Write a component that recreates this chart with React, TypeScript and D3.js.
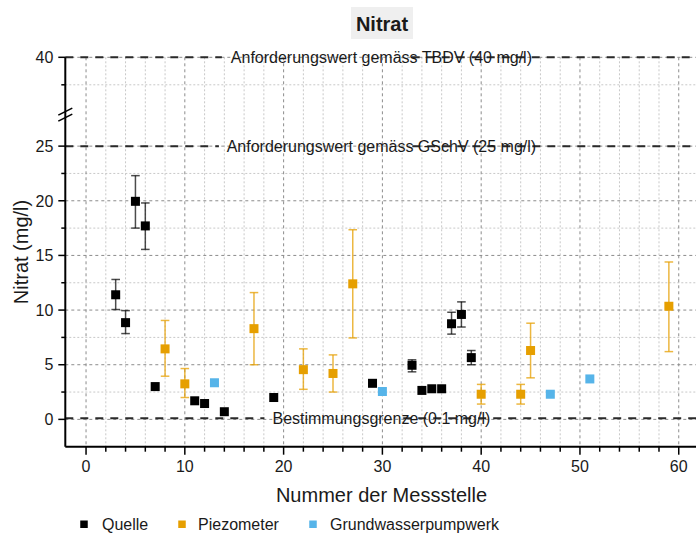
import React from "react";
import * as d3 from "d3";

// ---------- data ----------
const quelleX = [3, 4, 5, 6, 7, 11, 12, 14, 19, 29, 33, 34, 35, 36, 37, 38, 39];
const quelleY = [11.4, 8.85, 19.95, 17.7, 3.0, 1.7, 1.45, 0.7, 2.0, 3.3, 4.95, 2.65, 2.8, 2.8, 8.75, 9.6, 5.65];
const quelleLo = [10.05, 7.85, 17.5, 15.55, null, null, null, null, null, null, 4.35, null, null, null, 7.8, 8.45, 5.0];
const quelleHi = [12.8, 9.95, 22.3, 19.8, null, null, null, null, null, null, 5.45, null, null, null, 9.8, 10.75, 6.3];

const piezoX = [8, 10, 17, 22, 25, 27, 40, 44, 45, 59];
const piezoY = [6.45, 3.25, 8.3, 4.55, 4.2, 12.4, 2.3, 2.3, 6.3, 10.35];
const piezoLo = [3.95, 2.0, 5.0, 2.75, 2.5, 7.45, 1.4, 1.4, 3.8, 6.2];
const piezoHi = [9.05, 4.65, 11.6, 6.45, 5.9, 17.35, 3.2, 3.2, 8.8, 14.4];

const pumpX = [13, 30, 47, 51];
const pumpY = [3.35, 2.55, 2.3, 3.7];

const refValues = [40, 25, 0.1];
const refLabels = [
  "Anforderungswert gemäss TBDV (40 mg/l)",
  "Anforderungswert gemäss GSchV (25 mg/l)",
  "Bestimmungsgrenze (0.1 mg/l)",
];

const xTicks = [0, 10, 20, 30, 40, 50, 60];
const xMinor = [2, 4, 6, 8, 12, 14, 16, 18, 22, 24, 26, 28, 32, 34, 36, 38, 42, 44, 46, 48, 52, 54, 56, 58];
const yTicks = [0, 5, 10, 15, 20, 25, 40];
const yMinor = [2.5, 7.5, 12.5, 17.5, 22.5, 37.5];

const legendNames = ["Quelle", "Piezometer", "Grundwasserpumpwerk"];
const colors = ["#000000", "#E69F00", "#56B4E9"];

const FONT = "'Liberation Sans', Arial, Helvetica, sans-serif";

export default function App() {
  const W = 696, H = 533;
  const x = d3.scaleLinear().domain([-2.1, 62]).range([65.3, 698.5]);
  // broken y axis: lower [-2.5, 27.5], upper [35, 40]
  const y = d3.scaleLinear().domain([-2.5, 27.5, 35, 40]).range([446.7, 118.8, 112.3, 57.3]);
  const top = y(40), bottom = y(-2.5), left = x.range()[0];

  const sq = 9;
  const cap = 4.3;

  const errBars = (xs: number[], lo: (number | null)[], hi: (number | null)[], col: string, op: number) =>
    xs.map((xv, i) => {
      const l = lo[i], h = hi[i];
      if (l == null || h == null) return null;
      const cx = x(xv);
      return (
        <g key={i} stroke={col} strokeOpacity={op} strokeWidth={1.5}>
          <line x1={cx} x2={cx} y1={y(l)} y2={y(h)} />
          <line x1={cx - cap} x2={cx + cap} y1={y(l)} y2={y(l)} />
          <line x1={cx - cap} x2={cx + cap} y1={y(h)} y2={y(h)} />
        </g>
      );
    });

  const squares = (xs: number[], ys: number[], col: string) =>
    xs.map((xv, i) => (
      <rect key={i} x={x(xv) - sq / 2} y={y(ys[i]) - sq / 2} width={sq} height={sq} fill={col} />
    ));

  const labelCx = x(29.9);
  const labelW = [303, 309, 218];

  return (
    <svg width={W} height={H} style={{ position: "absolute", left: 0, top: 0, fontFamily: FONT }}>
      <rect x={0} y={0} width={W} height={H} fill="#fff" />
      {/* grid minor */}
      {xMinor.map((v) => (
        <line key={"xm" + v} x1={x(v)} x2={x(v)} y1={top} y2={bottom} stroke="#c8c8c8" strokeWidth={1} strokeDasharray="2,2" />
      ))}
      {yMinor.map((v) => (
        <line key={"ym" + v} x1={left} x2={W} y1={y(v)} y2={y(v)} stroke="#c8c8c8" strokeWidth={1} strokeDasharray="2,2" />
      ))}
      {/* grid major */}
      {xTicks.map((v) => (
        <line key={"xg" + v} x1={x(v)} x2={x(v)} y1={top} y2={bottom} stroke="#8c8c8c" strokeWidth={1} strokeDasharray="3,3" />
      ))}
      {yTicks.map((v) => (
        <line key={"yg" + v} x1={left} x2={W} y1={y(v)} y2={y(v)} stroke="#8c8c8c" strokeWidth={1} strokeDasharray="3,3" />
      ))}

      {/* reference lines */}
      {refValues.map((v, i) => {
        const ty = y(v);
        const ts = labelCx - labelW[i] / 2;
        const gapA = ts - 8;
        const gapB = ts + labelW[i] * 0.6;
        return (
          <g key={"ref" + i}>
            <line x1={left} x2={gapA} y1={ty} y2={ty} stroke="#2a2a2a" strokeWidth={2} strokeDasharray="8,7" />
            <line x1={gapB} x2={W} y1={ty} y2={ty} stroke="#2a2a2a" strokeWidth={2} strokeDasharray="8,7" />
            <text x={labelCx} y={ty} dy="0.36em" textAnchor="middle" fontSize={16} fill="#1a1a1a">
              {refLabels[i]}
            </text>
          </g>
        );
      })}

      {/* error bars */}
      {errBars(piezoX, piezoLo, piezoHi, colors[1], 0.75)}
      {errBars(quelleX, quelleLo, quelleHi, "#000", 0.7)}

      {/* points */}
      {squares(pumpX, pumpY, colors[2])}
      {squares(piezoX, piezoY, colors[1])}
      {squares(quelleX, quelleY, colors[0])}

      {/* y axis */}
      <line x1={left} x2={left} y1={top} y2={bottom} stroke="#000" strokeWidth={2} />
      {yTicks.map((v) => (
        <g key={"yt" + v}>
          <line x1={left - 7} x2={left} y1={y(v)} y2={y(v)} stroke="#000" strokeWidth={1.5} />
          <text x={left - 12} y={y(v)} dy="0.36em" textAnchor="end" fontSize={16} fill="#1a1a1a">
            {v}
          </text>
        </g>
      ))}
      {yMinor.map((v) => (
        <line key={"ymt" + v} x1={left - 4} x2={left} y1={y(v)} y2={y(v)} stroke="#000" strokeWidth={1.5} />
      ))}
      {/* break marks */}
      <line x1={left - 7} x2={left + 7} y1={y(31.7)} y2={y(31.7) - 7} stroke="#000" strokeWidth={1.5} />
      <line x1={left - 7} x2={left + 7} y1={y(31.7) + 6} y2={y(31.7) - 1} stroke="#000" strokeWidth={1.5} />

      {/* x axis */}
      <line x1={left} x2={W} y1={bottom} y2={bottom} stroke="#000" strokeWidth={2} />
      {xTicks.map((v) => (
        <g key={"xt" + v}>
          <line x1={x(v)} x2={x(v)} y1={bottom} y2={bottom + 8} stroke="#000" strokeWidth={1.5} />
          <text x={x(v)} y={471.7} textAnchor="middle" fontSize={16} fill="#1a1a1a">
            {v}
          </text>
        </g>
      ))}
      {xMinor.map((v) => (
        <line key={"xmt" + v} x1={x(v)} x2={x(v)} y1={bottom} y2={bottom + 5} stroke="#000" strokeWidth={1.5} />
      ))}

      {/* axis titles */}
      <text x={381.5} y={502} textAnchor="middle" fontSize={20} fill="#1a1a1a">
        Nummer der Messstelle
      </text>
      <text transform={`translate(28, 252) rotate(-90)`} textAnchor="middle" fontSize={20} fill="#1a1a1a">
        Nitrat (mg/l)
      </text>

      {/* title */}
      <rect x={351} y={7} width={62} height={32} fill="#efefef" />
      <text x={382} y={30.5} textAnchor="middle" fontSize={20} fontWeight="bold" fill="#1a1a1a">
        Nitrat
      </text>

      {/* legend */}
      {legendNames.map((n, i) => {
        const sx = [84, 182, 313][i];
        const tx = [102, 198, 330][i];
        return (
          <g key={"lg" + i}>
            <rect x={sx - 3.75} y={520.5} width={7.5} height={7.5} fill={colors[i]} />
            <text x={tx} y={530} fontSize={16} fill="#1a1a1a">
              {n}
            </text>
          </g>
        );
      })}
    </svg>
  );
}
